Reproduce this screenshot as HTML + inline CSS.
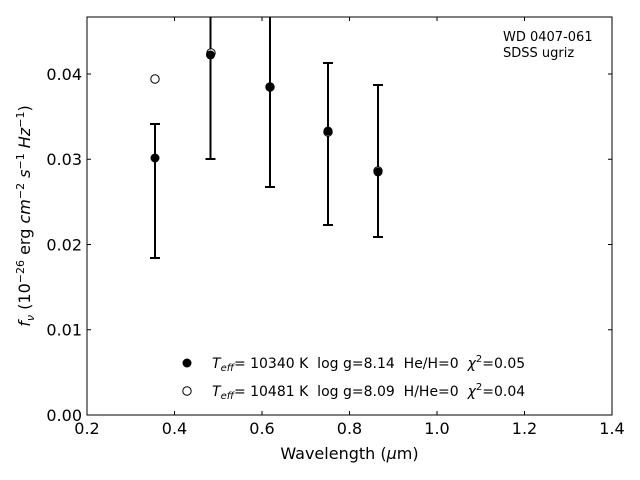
<!DOCTYPE html>
<html><head><meta charset="utf-8"><style>
body{margin:0;background:#fff}
svg{display:block;font-family:"DejaVu Sans","Liberation Sans",sans-serif}
text{white-space:pre}
</style></head><body>
<svg width="640" height="480" viewBox="0 0 640 480">
<rect x="87" y="17" width="525" height="398" fill="none" stroke="#000" stroke-width="1"/>
<g stroke="#000" stroke-width="1">
<path d="M87,415v-4M174.5,415v-4M262,415v-4M349.5,415v-4M437,415v-4M524.5,415v-4M612,415v-4
M87,17v4M174.5,17v4M262,17v4M349.5,17v4M437,17v4M524.5,17v4M612,17v4"/>
<path d="M87,415h4M87,329.7h4M87,244.5h4M87,159.2h4M87,74h4
M612,415h-4M612,329.7h-4M612,244.5h-4M612,159.2h-4M612,74h-4"/>
</g>
<g font-size="16" text-anchor="middle">
<text x="87" y="434">0.2</text><text x="174.5" y="434">0.4</text><text x="262" y="434">0.6</text>
<text x="349.5" y="434">0.8</text><text x="437" y="434">1.0</text><text x="524.5" y="434">1.2</text><text x="612" y="434">1.4</text>
</g>
<g font-size="16" text-anchor="end">
<text x="82" y="421">0.00</text><text x="82" y="335.7">0.01</text><text x="82" y="250.5">0.02</text>
<text x="82" y="165.2">0.03</text><text x="82" y="80">0.04</text>
</g>
<text x="349.5" y="459" font-size="16" text-anchor="middle">Wavelength (<tspan font-style="italic">μ</tspan>m)</text>
<text transform="translate(30,216) rotate(-90)" font-size="16" text-anchor="middle"><tspan font-style="italic">f<tspan font-size="11" dy="4">ν</tspan></tspan><tspan dy="-4"> (10</tspan><tspan font-size="11" dy="-6">−26</tspan><tspan dy="6"> erg </tspan><tspan font-style="italic">cm</tspan><tspan font-size="11" dy="-6">−2</tspan><tspan dy="6" font-style="italic"> s</tspan><tspan font-size="11" dy="-6">−1</tspan><tspan dy="6" font-style="italic"> Hz</tspan><tspan font-size="11" dy="-6">−1</tspan><tspan dy="6">)</tspan></text>
<text x="503" y="41" font-size="13">WD 0407-061</text>
<text x="503" y="57" font-size="13">SDSS ugriz</text>
<g stroke="#000" stroke-width="2" fill="none">
<path d="M155,124V258M150,124h10M150,258h10"/>
<path d="M210.5,17V159M205.5,159h10"/>
<path d="M270,17V187M265,187h10"/>
<path d="M328,63V225M323,63h10M323,225h10"/>
<path d="M378,85V237M373,85h10M373,237h10"/>
</g>
<g fill="#fff" stroke="#000" stroke-width="1">
<circle cx="155" cy="79" r="4.2"/><circle cx="211" cy="53" r="4.2"/><circle cx="270" cy="87" r="4.2"/><circle cx="328" cy="132" r="4.2"/><circle cx="378" cy="171" r="4.2"/>
</g>
<g fill="#000">
<circle cx="155" cy="158" r="4.5"/><circle cx="210.5" cy="55" r="4.5"/><circle cx="270" cy="87" r="4.5"/><circle cx="328" cy="131" r="4.5"/><circle cx="378" cy="172" r="4.5"/>
<circle cx="187" cy="363" r="4.5"/>
</g>
<circle cx="187" cy="391" r="4.2" fill="#fff" stroke="#000"/>
<g font-size="14">
<text x="212" y="368"><tspan font-style="italic">T<tspan font-size="10" dy="3">eff</tspan></tspan><tspan dy="-3">= 10340 K  log g=8.14  He/H=0  </tspan><tspan font-style="italic">χ</tspan><tspan font-size="10" dy="-6">2</tspan><tspan dy="6">=0.05</tspan></text>
<text x="212" y="396"><tspan font-style="italic">T<tspan font-size="10" dy="3">eff</tspan></tspan><tspan dy="-3">= 10481 K  log g=8.09  H/He=0  </tspan><tspan font-style="italic">χ</tspan><tspan font-size="10" dy="-6">2</tspan><tspan dy="6">=0.04</tspan></text>
</g>
</svg>
</body></html>
